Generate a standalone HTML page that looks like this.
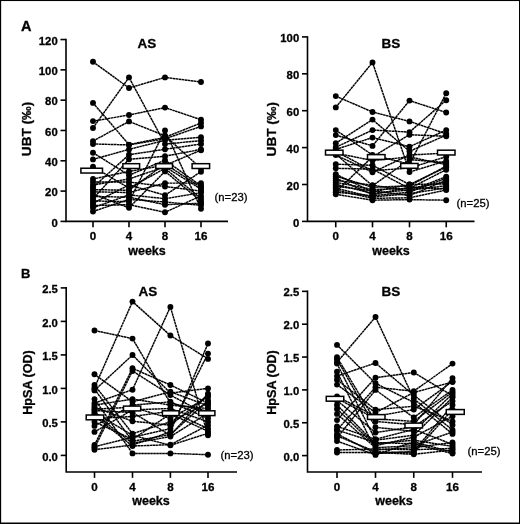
<!DOCTYPE html>
<html><head><meta charset="utf-8"><title>Figure</title>
<style>
html,body{margin:0;padding:0;background:#fff;}
body{width:520px;height:524px;overflow:hidden;}
svg{display:block;font-family:"Liberation Sans", Arial, sans-serif;}
svg text{fill:#000;stroke:#000;stroke-width:0.3px;}
</style></head><body>
<svg width="520" height="524" viewBox="0 0 520 524">
<rect width="520" height="524" fill="#fff"/>
<path d="M66 38.7 V221.4 H228" fill="none" stroke="#000" stroke-width="1.6" stroke-linejoin="miter"/>
<line x1="60.5" x2="66" y1="221.40" y2="221.40" stroke="#000" stroke-width="1.6"/>
<text x="57.7" y="226.50" text-anchor="end" font-size="11.3" font-weight="bold">0</text>
<line x1="60.5" x2="66" y1="191.09" y2="191.09" stroke="#000" stroke-width="1.6"/>
<text x="57.7" y="196.19" text-anchor="end" font-size="11.3" font-weight="bold">20</text>
<line x1="60.5" x2="66" y1="160.78" y2="160.78" stroke="#000" stroke-width="1.6"/>
<text x="57.7" y="165.88" text-anchor="end" font-size="11.3" font-weight="bold">40</text>
<line x1="60.5" x2="66" y1="130.47" y2="130.47" stroke="#000" stroke-width="1.6"/>
<text x="57.7" y="135.57" text-anchor="end" font-size="11.3" font-weight="bold">60</text>
<line x1="60.5" x2="66" y1="100.16" y2="100.16" stroke="#000" stroke-width="1.6"/>
<text x="57.7" y="105.26" text-anchor="end" font-size="11.3" font-weight="bold">80</text>
<line x1="60.5" x2="66" y1="69.85" y2="69.85" stroke="#000" stroke-width="1.6"/>
<text x="57.7" y="74.95" text-anchor="end" font-size="11.3" font-weight="bold">100</text>
<line x1="60.5" x2="66" y1="39.54" y2="39.54" stroke="#000" stroke-width="1.6"/>
<text x="57.7" y="44.64" text-anchor="end" font-size="11.3" font-weight="bold">120</text>
<line x1="93" x2="93" y1="221.4" y2="227.3" stroke="#000" stroke-width="1.6"/>
<text x="93" y="239.7" text-anchor="middle" font-size="11.6" font-weight="bold" stroke-width="0.4">0</text>
<line x1="129" x2="129" y1="221.4" y2="227.3" stroke="#000" stroke-width="1.6"/>
<text x="129" y="239.7" text-anchor="middle" font-size="11.6" font-weight="bold" stroke-width="0.4">4</text>
<line x1="165" x2="165" y1="221.4" y2="227.3" stroke="#000" stroke-width="1.6"/>
<text x="165" y="239.7" text-anchor="middle" font-size="11.6" font-weight="bold" stroke-width="0.4">8</text>
<line x1="201" x2="201" y1="221.4" y2="227.3" stroke="#000" stroke-width="1.6"/>
<text x="201" y="239.7" text-anchor="middle" font-size="11.6" font-weight="bold" stroke-width="0.4">16</text>
<text x="147" y="254.5" text-anchor="middle" font-size="12.5" font-weight="bold">weeks</text>
<text x="147" y="48" text-anchor="middle" font-size="13.5" font-weight="bold">AS</text>
<text x="231" y="201" text-anchor="middle" font-size="11.3">(n=23)</text>
<text transform="translate(30.8 129) rotate(-90)" text-anchor="middle" font-size="13.6" font-weight="bold">UBT (‰)</text>
<polyline points="93.0,61.8 129.0,88.0 165.0,77.4 201.0,82.0" fill="none" stroke="#000" stroke-width="1.45" stroke-dasharray="2.6 0.4"/>
<polyline points="93.0,128.0 129.0,77.4 165.0,144.1 201.0,140.6" fill="none" stroke="#000" stroke-width="1.45" stroke-dasharray="2.6 0.4"/>
<polyline points="93.0,141.1 129.0,121.4 165.0,135.8 201.0,168.4" fill="none" stroke="#000" stroke-width="1.45" stroke-dasharray="2.6 0.4"/>
<polyline points="93.0,200.9 129.0,201.7 165.0,130.5 201.0,208.7" fill="none" stroke="#000" stroke-width="1.45" stroke-dasharray="2.6 0.4"/>
<polyline points="93.0,121.1 129.0,115.0 165.0,107.6 201.0,119.7" fill="none" stroke="#000" stroke-width="1.45" stroke-dasharray="2.6 0.4"/>
<polyline points="93.0,102.9 129.0,144.6 165.0,137.3 201.0,123.0" fill="none" stroke="#000" stroke-width="1.45" stroke-dasharray="2.6 0.4"/>
<polyline points="93.0,144.0 129.0,144.9 165.0,138.8 201.0,126.4" fill="none" stroke="#000" stroke-width="1.45" stroke-dasharray="2.6 0.4"/>
<polyline points="93.0,159.4 129.0,149.4 165.0,140.3 201.0,137.3" fill="none" stroke="#000" stroke-width="1.45" stroke-dasharray="2.6 0.4"/>
<polyline points="93.0,187.3 129.0,154.7 165.0,149.3 201.0,144.0" fill="none" stroke="#000" stroke-width="1.45" stroke-dasharray="2.6 0.4"/>
<polyline points="93.0,198.7 129.0,159.3 165.0,156.2 201.0,149.4" fill="none" stroke="#000" stroke-width="1.45" stroke-dasharray="2.6 0.4"/>
<polyline points="93.0,152.7 129.0,175.2 165.0,160.2 201.0,185.8" fill="none" stroke="#000" stroke-width="1.45" stroke-dasharray="2.6 0.4"/>
<polyline points="93.0,166.8 129.0,188.1 165.0,168.4 201.0,198.7" fill="none" stroke="#000" stroke-width="1.45" stroke-dasharray="2.6 0.4"/>
<polyline points="93.0,179.0 129.0,171.4 165.0,165.3 201.0,150.2" fill="none" stroke="#000" stroke-width="1.45" stroke-dasharray="2.6 0.4"/>
<polyline points="93.0,185.0 129.0,179.0 165.0,166.8 201.0,189.1" fill="none" stroke="#000" stroke-width="1.45" stroke-dasharray="2.6 0.4"/>
<polyline points="93.0,182.0 129.0,182.0 165.0,186.5 201.0,191.1" fill="none" stroke="#000" stroke-width="1.45" stroke-dasharray="2.6 0.4"/>
<polyline points="93.0,191.8 129.0,192.6 165.0,183.1 201.0,183.1" fill="none" stroke="#000" stroke-width="1.45" stroke-dasharray="2.6 0.4"/>
<polyline points="93.0,203.2 129.0,185.0 165.0,195.2 201.0,171.7" fill="none" stroke="#000" stroke-width="1.45" stroke-dasharray="2.6 0.4"/>
<polyline points="93.0,207.8 129.0,194.9 165.0,198.7 201.0,192.6" fill="none" stroke="#000" stroke-width="1.45" stroke-dasharray="2.6 0.4"/>
<polyline points="93.0,189.6 129.0,190.3 165.0,163.8 201.0,187.5" fill="none" stroke="#000" stroke-width="1.45" stroke-dasharray="2.6 0.4"/>
<polyline points="93.0,196.4 129.0,197.2 165.0,204.7 201.0,203.2" fill="none" stroke="#000" stroke-width="1.45" stroke-dasharray="2.6 0.4"/>
<polyline points="93.0,194.1 129.0,207.8 165.0,171.4 201.0,201.2" fill="none" stroke="#000" stroke-width="1.45" stroke-dasharray="2.6 0.4"/>
<polyline points="93.0,205.5 129.0,204.7 165.0,212.3 201.0,195.9" fill="none" stroke="#000" stroke-width="1.45" stroke-dasharray="2.6 0.4"/>
<polyline points="93.0,211.5 129.0,199.4 165.0,202.0 201.0,205.3" fill="none" stroke="#000" stroke-width="1.45" stroke-dasharray="2.6 0.4"/>
<circle cx="93.0" cy="61.8" r="2.95"/>
<circle cx="129.0" cy="88.0" r="2.95"/>
<circle cx="165.0" cy="77.4" r="2.95"/>
<circle cx="201.0" cy="82.0" r="2.95"/>
<circle cx="93.0" cy="128.0" r="2.95"/>
<circle cx="129.0" cy="77.4" r="2.95"/>
<circle cx="165.0" cy="144.1" r="2.95"/>
<circle cx="201.0" cy="140.6" r="2.95"/>
<circle cx="93.0" cy="141.1" r="2.95"/>
<circle cx="129.0" cy="121.4" r="2.95"/>
<circle cx="165.0" cy="135.8" r="2.95"/>
<circle cx="201.0" cy="168.4" r="2.95"/>
<circle cx="93.0" cy="200.9" r="2.95"/>
<circle cx="129.0" cy="201.7" r="2.95"/>
<circle cx="165.0" cy="130.5" r="2.95"/>
<circle cx="201.0" cy="208.7" r="2.95"/>
<circle cx="93.0" cy="121.1" r="2.95"/>
<circle cx="129.0" cy="115.0" r="2.95"/>
<circle cx="165.0" cy="107.6" r="2.95"/>
<circle cx="201.0" cy="119.7" r="2.95"/>
<circle cx="93.0" cy="102.9" r="2.95"/>
<circle cx="129.0" cy="144.6" r="2.95"/>
<circle cx="165.0" cy="137.3" r="2.95"/>
<circle cx="201.0" cy="123.0" r="2.95"/>
<circle cx="93.0" cy="144.0" r="2.95"/>
<circle cx="129.0" cy="144.9" r="2.95"/>
<circle cx="165.0" cy="138.8" r="2.95"/>
<circle cx="201.0" cy="126.4" r="2.95"/>
<circle cx="93.0" cy="159.4" r="2.95"/>
<circle cx="129.0" cy="149.4" r="2.95"/>
<circle cx="165.0" cy="140.3" r="2.95"/>
<circle cx="201.0" cy="137.3" r="2.95"/>
<circle cx="93.0" cy="187.3" r="2.95"/>
<circle cx="129.0" cy="154.7" r="2.95"/>
<circle cx="165.0" cy="149.3" r="2.95"/>
<circle cx="201.0" cy="144.0" r="2.95"/>
<circle cx="93.0" cy="198.7" r="2.95"/>
<circle cx="129.0" cy="159.3" r="2.95"/>
<circle cx="165.0" cy="156.2" r="2.95"/>
<circle cx="201.0" cy="149.4" r="2.95"/>
<circle cx="93.0" cy="152.7" r="2.95"/>
<circle cx="129.0" cy="175.2" r="2.95"/>
<circle cx="165.0" cy="160.2" r="2.95"/>
<circle cx="201.0" cy="185.8" r="2.95"/>
<circle cx="93.0" cy="166.8" r="2.95"/>
<circle cx="129.0" cy="188.1" r="2.95"/>
<circle cx="165.0" cy="168.4" r="2.95"/>
<circle cx="201.0" cy="198.7" r="2.95"/>
<circle cx="93.0" cy="179.0" r="2.95"/>
<circle cx="129.0" cy="171.4" r="2.95"/>
<circle cx="165.0" cy="165.3" r="2.95"/>
<circle cx="201.0" cy="150.2" r="2.95"/>
<circle cx="93.0" cy="185.0" r="2.95"/>
<circle cx="129.0" cy="179.0" r="2.95"/>
<circle cx="165.0" cy="166.8" r="2.95"/>
<circle cx="201.0" cy="189.1" r="2.95"/>
<circle cx="93.0" cy="182.0" r="2.95"/>
<circle cx="129.0" cy="182.0" r="2.95"/>
<circle cx="165.0" cy="186.5" r="2.95"/>
<circle cx="201.0" cy="191.1" r="2.95"/>
<circle cx="93.0" cy="191.8" r="2.95"/>
<circle cx="129.0" cy="192.6" r="2.95"/>
<circle cx="165.0" cy="183.1" r="2.95"/>
<circle cx="201.0" cy="183.1" r="2.95"/>
<circle cx="93.0" cy="203.2" r="2.95"/>
<circle cx="129.0" cy="185.0" r="2.95"/>
<circle cx="165.0" cy="195.2" r="2.95"/>
<circle cx="201.0" cy="171.7" r="2.95"/>
<circle cx="93.0" cy="207.8" r="2.95"/>
<circle cx="129.0" cy="194.9" r="2.95"/>
<circle cx="165.0" cy="198.7" r="2.95"/>
<circle cx="201.0" cy="192.6" r="2.95"/>
<circle cx="93.0" cy="189.6" r="2.95"/>
<circle cx="129.0" cy="190.3" r="2.95"/>
<circle cx="165.0" cy="163.8" r="2.95"/>
<circle cx="201.0" cy="187.5" r="2.95"/>
<circle cx="93.0" cy="196.4" r="2.95"/>
<circle cx="129.0" cy="197.2" r="2.95"/>
<circle cx="165.0" cy="204.7" r="2.95"/>
<circle cx="201.0" cy="203.2" r="2.95"/>
<circle cx="93.0" cy="194.1" r="2.95"/>
<circle cx="129.0" cy="207.8" r="2.95"/>
<circle cx="165.0" cy="171.4" r="2.95"/>
<circle cx="201.0" cy="201.2" r="2.95"/>
<circle cx="93.0" cy="205.5" r="2.95"/>
<circle cx="129.0" cy="204.7" r="2.95"/>
<circle cx="165.0" cy="212.3" r="2.95"/>
<circle cx="201.0" cy="195.9" r="2.95"/>
<circle cx="93.0" cy="211.5" r="2.95"/>
<circle cx="129.0" cy="199.4" r="2.95"/>
<circle cx="165.0" cy="202.0" r="2.95"/>
<circle cx="201.0" cy="205.3" r="2.95"/>
<rect x="80.9" y="168.23" width="21.599999999999994" height="4.8" fill="#fff" stroke="#000" stroke-width="1.5"/>
<rect x="122.9" y="163.68" width="16.69999999999999" height="4.8" fill="#fff" stroke="#000" stroke-width="1.5"/>
<rect x="155.8" y="163.68" width="16.69999999999999" height="4.8" fill="#fff" stroke="#000" stroke-width="1.5"/>
<rect x="192.1" y="163.68" width="17.5" height="4.8" fill="#fff" stroke="#000" stroke-width="1.5"/>
<path d="M307.5 36.2 V221.4 H474.5" fill="none" stroke="#000" stroke-width="1.6" stroke-linejoin="miter"/>
<line x1="302.0" x2="307.5" y1="221.40" y2="221.40" stroke="#000" stroke-width="1.6"/>
<text x="299.2" y="226.50" text-anchor="end" font-size="11.3" font-weight="bold">0</text>
<line x1="302.0" x2="307.5" y1="184.50" y2="184.50" stroke="#000" stroke-width="1.6"/>
<text x="299.2" y="189.60" text-anchor="end" font-size="11.3" font-weight="bold">20</text>
<line x1="302.0" x2="307.5" y1="147.60" y2="147.60" stroke="#000" stroke-width="1.6"/>
<text x="299.2" y="152.70" text-anchor="end" font-size="11.3" font-weight="bold">40</text>
<line x1="302.0" x2="307.5" y1="110.70" y2="110.70" stroke="#000" stroke-width="1.6"/>
<text x="299.2" y="115.80" text-anchor="end" font-size="11.3" font-weight="bold">60</text>
<line x1="302.0" x2="307.5" y1="73.80" y2="73.80" stroke="#000" stroke-width="1.6"/>
<text x="299.2" y="78.90" text-anchor="end" font-size="11.3" font-weight="bold">80</text>
<line x1="302.0" x2="307.5" y1="36.90" y2="36.90" stroke="#000" stroke-width="1.6"/>
<text x="299.2" y="42.00" text-anchor="end" font-size="11.3" font-weight="bold">100</text>
<line x1="335.75" x2="335.75" y1="221.4" y2="227.3" stroke="#000" stroke-width="1.6"/>
<text x="335.75" y="239.7" text-anchor="middle" font-size="11.6" font-weight="bold" stroke-width="0.4">0</text>
<line x1="372.5" x2="372.5" y1="221.4" y2="227.3" stroke="#000" stroke-width="1.6"/>
<text x="372.5" y="239.7" text-anchor="middle" font-size="11.6" font-weight="bold" stroke-width="0.4">4</text>
<line x1="409.5" x2="409.5" y1="221.4" y2="227.3" stroke="#000" stroke-width="1.6"/>
<text x="409.5" y="239.7" text-anchor="middle" font-size="11.6" font-weight="bold" stroke-width="0.4">8</text>
<line x1="446.25" x2="446.25" y1="221.4" y2="227.3" stroke="#000" stroke-width="1.6"/>
<text x="446.25" y="239.7" text-anchor="middle" font-size="11.6" font-weight="bold" stroke-width="0.4">16</text>
<text x="391" y="254.5" text-anchor="middle" font-size="12.5" font-weight="bold">weeks</text>
<text x="391" y="48" text-anchor="middle" font-size="13.5" font-weight="bold">BS</text>
<text x="473" y="206.5" text-anchor="middle" font-size="11.3">(n=25)</text>
<text transform="translate(275.8 129.2) rotate(-90)" text-anchor="middle" font-size="13.6" font-weight="bold">UBT (‰)</text>
<polyline points="335.8,107.4 372.5,62.4 409.5,172.1 446.2,160.9" fill="none" stroke="#000" stroke-width="1.45" stroke-dasharray="2.6 0.4"/>
<polyline points="335.8,96.1 372.5,112.0 409.5,121.4 446.2,133.8" fill="none" stroke="#000" stroke-width="1.45" stroke-dasharray="2.6 0.4"/>
<polyline points="335.8,135.1 372.5,145.9 409.5,100.6 446.2,112.5" fill="none" stroke="#000" stroke-width="1.45" stroke-dasharray="2.6 0.4"/>
<polyline points="335.8,143.2 372.5,119.6 409.5,151.3 446.2,135.1" fill="none" stroke="#000" stroke-width="1.45" stroke-dasharray="2.6 0.4"/>
<polyline points="335.8,147.2 372.5,130.1 409.5,132.1 446.2,100.2" fill="none" stroke="#000" stroke-width="1.45" stroke-dasharray="2.6 0.4"/>
<polyline points="335.8,149.4 372.5,137.6 409.5,146.7 446.2,130.1" fill="none" stroke="#000" stroke-width="1.45" stroke-dasharray="2.6 0.4"/>
<polyline points="335.8,130.1 372.5,155.0 409.5,164.2 446.2,93.2" fill="none" stroke="#000" stroke-width="1.45" stroke-dasharray="2.6 0.4"/>
<polyline points="335.8,191.9 372.5,156.8 409.5,134.7 446.2,136.3" fill="none" stroke="#000" stroke-width="1.45" stroke-dasharray="2.6 0.4"/>
<polyline points="335.8,153.1 372.5,160.5 409.5,157.0 446.2,164.6" fill="none" stroke="#000" stroke-width="1.45" stroke-dasharray="2.6 0.4"/>
<polyline points="335.8,164.2 372.5,165.3 409.5,184.5 446.2,167.2" fill="none" stroke="#000" stroke-width="1.45" stroke-dasharray="2.6 0.4"/>
<polyline points="335.8,168.3 372.5,169.2 409.5,188.4 446.2,182.1" fill="none" stroke="#000" stroke-width="1.45" stroke-dasharray="2.6 0.4"/>
<polyline points="335.8,155.0 372.5,172.3 409.5,155.0 446.2,153.1" fill="none" stroke="#000" stroke-width="1.45" stroke-dasharray="2.6 0.4"/>
<polyline points="335.8,154.1 372.5,185.8 409.5,159.6 446.2,162.7" fill="none" stroke="#000" stroke-width="1.45" stroke-dasharray="2.6 0.4"/>
<polyline points="335.8,151.3 372.5,170.8 409.5,167.9 446.2,156.8" fill="none" stroke="#000" stroke-width="1.45" stroke-dasharray="2.6 0.4"/>
<polyline points="335.8,194.3 372.5,200.2 409.5,199.6 446.2,200.2" fill="none" stroke="#000" stroke-width="1.45" stroke-dasharray="2.6 0.4"/>
<polyline points="335.8,176.2 372.5,187.3 409.5,185.8 446.2,166.1" fill="none" stroke="#000" stroke-width="1.45" stroke-dasharray="2.6 0.4"/>
<polyline points="335.8,174.2 372.5,191.9 409.5,184.5 446.2,183.9" fill="none" stroke="#000" stroke-width="1.45" stroke-dasharray="2.6 0.4"/>
<polyline points="335.8,182.3 372.5,189.5 409.5,188.4 446.2,169.7" fill="none" stroke="#000" stroke-width="1.45" stroke-dasharray="2.6 0.4"/>
<polyline points="335.8,178.2 372.5,194.6 409.5,187.3 446.2,188.9" fill="none" stroke="#000" stroke-width="1.45" stroke-dasharray="2.6 0.4"/>
<polyline points="335.8,180.3 372.5,185.2 409.5,191.0 446.2,176.6" fill="none" stroke="#000" stroke-width="1.45" stroke-dasharray="2.6 0.4"/>
<polyline points="335.8,184.3 372.5,193.4 409.5,190.0 446.2,185.8" fill="none" stroke="#000" stroke-width="1.45" stroke-dasharray="2.6 0.4"/>
<polyline points="335.8,186.3 372.5,190.8 409.5,195.6 446.2,180.3" fill="none" stroke="#000" stroke-width="1.45" stroke-dasharray="2.6 0.4"/>
<polyline points="335.8,192.2 372.5,195.8 409.5,192.1 446.2,178.4" fill="none" stroke="#000" stroke-width="1.45" stroke-dasharray="2.6 0.4"/>
<polyline points="335.8,190.0 372.5,198.3 409.5,197.8 446.2,190.0" fill="none" stroke="#000" stroke-width="1.45" stroke-dasharray="2.6 0.4"/>
<polyline points="335.8,188.2 372.5,197.0 409.5,193.7 446.2,187.8" fill="none" stroke="#000" stroke-width="1.45" stroke-dasharray="2.6 0.4"/>
<circle cx="335.8" cy="107.4" r="2.95"/>
<circle cx="372.5" cy="62.4" r="2.95"/>
<circle cx="409.5" cy="172.1" r="2.95"/>
<circle cx="446.2" cy="160.9" r="2.95"/>
<circle cx="335.8" cy="96.1" r="2.95"/>
<circle cx="372.5" cy="112.0" r="2.95"/>
<circle cx="409.5" cy="121.4" r="2.95"/>
<circle cx="446.2" cy="133.8" r="2.95"/>
<circle cx="335.8" cy="135.1" r="2.95"/>
<circle cx="372.5" cy="145.9" r="2.95"/>
<circle cx="409.5" cy="100.6" r="2.95"/>
<circle cx="446.2" cy="112.5" r="2.95"/>
<circle cx="335.8" cy="143.2" r="2.95"/>
<circle cx="372.5" cy="119.6" r="2.95"/>
<circle cx="409.5" cy="151.3" r="2.95"/>
<circle cx="446.2" cy="135.1" r="2.95"/>
<circle cx="335.8" cy="147.2" r="2.95"/>
<circle cx="372.5" cy="130.1" r="2.95"/>
<circle cx="409.5" cy="132.1" r="2.95"/>
<circle cx="446.2" cy="100.2" r="2.95"/>
<circle cx="335.8" cy="149.4" r="2.95"/>
<circle cx="372.5" cy="137.6" r="2.95"/>
<circle cx="409.5" cy="146.7" r="2.95"/>
<circle cx="446.2" cy="130.1" r="2.95"/>
<circle cx="335.8" cy="130.1" r="2.95"/>
<circle cx="372.5" cy="155.0" r="2.95"/>
<circle cx="409.5" cy="164.2" r="2.95"/>
<circle cx="446.2" cy="93.2" r="2.95"/>
<circle cx="335.8" cy="191.9" r="2.95"/>
<circle cx="372.5" cy="156.8" r="2.95"/>
<circle cx="409.5" cy="134.7" r="2.95"/>
<circle cx="446.2" cy="136.3" r="2.95"/>
<circle cx="335.8" cy="153.1" r="2.95"/>
<circle cx="372.5" cy="160.5" r="2.95"/>
<circle cx="409.5" cy="157.0" r="2.95"/>
<circle cx="446.2" cy="164.6" r="2.95"/>
<circle cx="335.8" cy="164.2" r="2.95"/>
<circle cx="372.5" cy="165.3" r="2.95"/>
<circle cx="409.5" cy="184.5" r="2.95"/>
<circle cx="446.2" cy="167.2" r="2.95"/>
<circle cx="335.8" cy="168.3" r="2.95"/>
<circle cx="372.5" cy="169.2" r="2.95"/>
<circle cx="409.5" cy="188.4" r="2.95"/>
<circle cx="446.2" cy="182.1" r="2.95"/>
<circle cx="335.8" cy="155.0" r="2.95"/>
<circle cx="372.5" cy="172.3" r="2.95"/>
<circle cx="409.5" cy="155.0" r="2.95"/>
<circle cx="446.2" cy="153.1" r="2.95"/>
<circle cx="335.8" cy="154.1" r="2.95"/>
<circle cx="372.5" cy="185.8" r="2.95"/>
<circle cx="409.5" cy="159.6" r="2.95"/>
<circle cx="446.2" cy="162.7" r="2.95"/>
<circle cx="335.8" cy="151.3" r="2.95"/>
<circle cx="372.5" cy="170.8" r="2.95"/>
<circle cx="409.5" cy="167.9" r="2.95"/>
<circle cx="446.2" cy="156.8" r="2.95"/>
<circle cx="335.8" cy="194.3" r="2.95"/>
<circle cx="372.5" cy="200.2" r="2.95"/>
<circle cx="409.5" cy="199.6" r="2.95"/>
<circle cx="446.2" cy="200.2" r="2.95"/>
<circle cx="335.8" cy="176.2" r="2.95"/>
<circle cx="372.5" cy="187.3" r="2.95"/>
<circle cx="409.5" cy="185.8" r="2.95"/>
<circle cx="446.2" cy="166.1" r="2.95"/>
<circle cx="335.8" cy="174.2" r="2.95"/>
<circle cx="372.5" cy="191.9" r="2.95"/>
<circle cx="409.5" cy="184.5" r="2.95"/>
<circle cx="446.2" cy="183.9" r="2.95"/>
<circle cx="335.8" cy="182.3" r="2.95"/>
<circle cx="372.5" cy="189.5" r="2.95"/>
<circle cx="409.5" cy="188.4" r="2.95"/>
<circle cx="446.2" cy="169.7" r="2.95"/>
<circle cx="335.8" cy="178.2" r="2.95"/>
<circle cx="372.5" cy="194.6" r="2.95"/>
<circle cx="409.5" cy="187.3" r="2.95"/>
<circle cx="446.2" cy="188.9" r="2.95"/>
<circle cx="335.8" cy="180.3" r="2.95"/>
<circle cx="372.5" cy="185.2" r="2.95"/>
<circle cx="409.5" cy="191.0" r="2.95"/>
<circle cx="446.2" cy="176.6" r="2.95"/>
<circle cx="335.8" cy="184.3" r="2.95"/>
<circle cx="372.5" cy="193.4" r="2.95"/>
<circle cx="409.5" cy="190.0" r="2.95"/>
<circle cx="446.2" cy="185.8" r="2.95"/>
<circle cx="335.8" cy="186.3" r="2.95"/>
<circle cx="372.5" cy="190.8" r="2.95"/>
<circle cx="409.5" cy="195.6" r="2.95"/>
<circle cx="446.2" cy="180.3" r="2.95"/>
<circle cx="335.8" cy="192.2" r="2.95"/>
<circle cx="372.5" cy="195.8" r="2.95"/>
<circle cx="409.5" cy="192.1" r="2.95"/>
<circle cx="446.2" cy="178.4" r="2.95"/>
<circle cx="335.8" cy="190.0" r="2.95"/>
<circle cx="372.5" cy="198.3" r="2.95"/>
<circle cx="409.5" cy="197.8" r="2.95"/>
<circle cx="446.2" cy="190.0" r="2.95"/>
<circle cx="335.8" cy="188.2" r="2.95"/>
<circle cx="372.5" cy="197.0" r="2.95"/>
<circle cx="409.5" cy="193.7" r="2.95"/>
<circle cx="446.2" cy="187.8" r="2.95"/>
<rect x="325.5" y="150.18" width="17.5" height="4.8" fill="#fff" stroke="#000" stroke-width="1.5"/>
<rect x="367.5" y="154.61" width="17.5" height="4.8" fill="#fff" stroke="#000" stroke-width="1.5"/>
<rect x="400.75" y="163.47" width="17.25" height="4.8" fill="#fff" stroke="#000" stroke-width="1.5"/>
<rect x="437.5" y="150.18" width="17.5" height="4.8" fill="#fff" stroke="#000" stroke-width="1.5"/>
<path d="M66.2 287.0 V472 H237" fill="none" stroke="#000" stroke-width="1.6" stroke-linejoin="miter"/>
<line x1="60.7" x2="66.2" y1="455.40" y2="455.40" stroke="#000" stroke-width="1.6"/>
<text x="57.900000000000006" y="460.50" text-anchor="end" font-size="11.3" font-weight="bold">0.0</text>
<line x1="60.7" x2="66.2" y1="421.90" y2="421.90" stroke="#000" stroke-width="1.6"/>
<text x="57.900000000000006" y="427.00" text-anchor="end" font-size="11.3" font-weight="bold">0.5</text>
<line x1="60.7" x2="66.2" y1="388.40" y2="388.40" stroke="#000" stroke-width="1.6"/>
<text x="57.900000000000006" y="393.50" text-anchor="end" font-size="11.3" font-weight="bold">1.0</text>
<line x1="60.7" x2="66.2" y1="354.90" y2="354.90" stroke="#000" stroke-width="1.6"/>
<text x="57.900000000000006" y="360.00" text-anchor="end" font-size="11.3" font-weight="bold">1.5</text>
<line x1="60.7" x2="66.2" y1="321.40" y2="321.40" stroke="#000" stroke-width="1.6"/>
<text x="57.900000000000006" y="326.50" text-anchor="end" font-size="11.3" font-weight="bold">2.0</text>
<line x1="60.7" x2="66.2" y1="287.90" y2="287.90" stroke="#000" stroke-width="1.6"/>
<text x="57.900000000000006" y="293.00" text-anchor="end" font-size="11.3" font-weight="bold">2.5</text>
<line x1="94.5" x2="94.5" y1="472" y2="477.9" stroke="#000" stroke-width="1.6"/>
<text x="94.5" y="491" text-anchor="middle" font-size="11.6" font-weight="bold" stroke-width="0.4">0</text>
<line x1="132.5" x2="132.5" y1="472" y2="477.9" stroke="#000" stroke-width="1.6"/>
<text x="132.5" y="491" text-anchor="middle" font-size="11.6" font-weight="bold" stroke-width="0.4">4</text>
<line x1="170.4" x2="170.4" y1="472" y2="477.9" stroke="#000" stroke-width="1.6"/>
<text x="170.4" y="491" text-anchor="middle" font-size="11.6" font-weight="bold" stroke-width="0.4">8</text>
<line x1="208" x2="208" y1="472" y2="477.9" stroke="#000" stroke-width="1.6"/>
<text x="208" y="491" text-anchor="middle" font-size="11.6" font-weight="bold" stroke-width="0.4">16</text>
<text x="151" y="505" text-anchor="middle" font-size="12.5" font-weight="bold">weeks</text>
<text x="148" y="296" text-anchor="middle" font-size="13.5" font-weight="bold">AS</text>
<text x="237" y="459" text-anchor="middle" font-size="11.3">(n=23)</text>
<text transform="translate(31.5 382.5) rotate(-90)" text-anchor="middle" font-size="12.6" font-weight="bold">HpSA (OD)</text>
<polyline points="94.5,330.5 132.5,338.6 170.4,403.1 208.0,411.2" fill="none" stroke="#000" stroke-width="1.45" stroke-dasharray="2.6 0.4"/>
<polyline points="94.5,387.7 132.5,301.6 170.4,335.5 208.0,358.9" fill="none" stroke="#000" stroke-width="1.45" stroke-dasharray="2.6 0.4"/>
<polyline points="94.5,403.1 132.5,389.7 170.4,306.9 208.0,435.3" fill="none" stroke="#000" stroke-width="1.45" stroke-dasharray="2.6 0.4"/>
<polyline points="94.5,390.4 132.5,355.0 170.4,393.1 208.0,388.4" fill="none" stroke="#000" stroke-width="1.45" stroke-dasharray="2.6 0.4"/>
<polyline points="94.5,374.3 132.5,401.8 170.4,391.8 208.0,405.8" fill="none" stroke="#000" stroke-width="1.45" stroke-dasharray="2.6 0.4"/>
<polyline points="94.5,385.0 132.5,433.6 170.4,421.9 208.0,403.1" fill="none" stroke="#000" stroke-width="1.45" stroke-dasharray="2.6 0.4"/>
<polyline points="94.5,389.1 132.5,441.3 170.4,434.6 208.0,400.5" fill="none" stroke="#000" stroke-width="1.45" stroke-dasharray="2.6 0.4"/>
<polyline points="94.5,399.1 132.5,453.4 170.4,453.4 208.0,454.7" fill="none" stroke="#000" stroke-width="1.45" stroke-dasharray="2.6 0.4"/>
<polyline points="94.5,445.0 132.5,368.3 170.4,385.0 208.0,403.1" fill="none" stroke="#000" stroke-width="1.45" stroke-dasharray="2.6 0.4"/>
<polyline points="94.5,448.0 132.5,371.0 170.4,395.1 208.0,415.2" fill="none" stroke="#000" stroke-width="1.45" stroke-dasharray="2.6 0.4"/>
<polyline points="94.5,449.7 132.5,445.0 170.4,431.9 208.0,343.5" fill="none" stroke="#000" stroke-width="1.45" stroke-dasharray="2.6 0.4"/>
<polyline points="94.5,446.7 132.5,437.3 170.4,428.6 208.0,353.6" fill="none" stroke="#000" stroke-width="1.45" stroke-dasharray="2.6 0.4"/>
<polyline points="94.5,407.2 132.5,421.2 170.4,425.2 208.0,395.1" fill="none" stroke="#000" stroke-width="1.45" stroke-dasharray="2.6 0.4"/>
<polyline points="94.5,425.9 132.5,405.1 170.4,401.8 208.0,418.5" fill="none" stroke="#000" stroke-width="1.45" stroke-dasharray="2.6 0.4"/>
<polyline points="94.5,431.9 132.5,409.8 170.4,408.5 208.0,421.9" fill="none" stroke="#000" stroke-width="1.45" stroke-dasharray="2.6 0.4"/>
<polyline points="94.5,405.1 132.5,399.1 170.4,405.1 208.0,408.5" fill="none" stroke="#000" stroke-width="1.45" stroke-dasharray="2.6 0.4"/>
<polyline points="94.5,409.2 132.5,407.2 170.4,418.5 208.0,397.1" fill="none" stroke="#000" stroke-width="1.45" stroke-dasharray="2.6 0.4"/>
<polyline points="94.5,410.5 132.5,412.5 170.4,435.3 208.0,393.8" fill="none" stroke="#000" stroke-width="1.45" stroke-dasharray="2.6 0.4"/>
<polyline points="94.5,413.9 132.5,443.3 170.4,436.6 208.0,413.2" fill="none" stroke="#000" stroke-width="1.45" stroke-dasharray="2.6 0.4"/>
<polyline points="94.5,415.9 132.5,446.0 170.4,444.7 208.0,425.2" fill="none" stroke="#000" stroke-width="1.45" stroke-dasharray="2.6 0.4"/>
<polyline points="94.5,418.5 132.5,416.5 170.4,411.2 208.0,428.6" fill="none" stroke="#000" stroke-width="1.45" stroke-dasharray="2.6 0.4"/>
<polyline points="94.5,412.5 132.5,435.3 170.4,445.3 208.0,433.3" fill="none" stroke="#000" stroke-width="1.45" stroke-dasharray="2.6 0.4"/>
<polyline points="94.5,421.9 132.5,439.3 170.4,413.9 208.0,431.3" fill="none" stroke="#000" stroke-width="1.45" stroke-dasharray="2.6 0.4"/>
<circle cx="94.5" cy="330.5" r="2.95"/>
<circle cx="132.5" cy="338.6" r="2.95"/>
<circle cx="170.4" cy="403.1" r="2.95"/>
<circle cx="208.0" cy="411.2" r="2.95"/>
<circle cx="94.5" cy="387.7" r="2.95"/>
<circle cx="132.5" cy="301.6" r="2.95"/>
<circle cx="170.4" cy="335.5" r="2.95"/>
<circle cx="208.0" cy="358.9" r="2.95"/>
<circle cx="94.5" cy="403.1" r="2.95"/>
<circle cx="132.5" cy="389.7" r="2.95"/>
<circle cx="170.4" cy="306.9" r="2.95"/>
<circle cx="208.0" cy="435.3" r="2.95"/>
<circle cx="94.5" cy="390.4" r="2.95"/>
<circle cx="132.5" cy="355.0" r="2.95"/>
<circle cx="170.4" cy="393.1" r="2.95"/>
<circle cx="208.0" cy="388.4" r="2.95"/>
<circle cx="94.5" cy="374.3" r="2.95"/>
<circle cx="132.5" cy="401.8" r="2.95"/>
<circle cx="170.4" cy="391.8" r="2.95"/>
<circle cx="208.0" cy="405.8" r="2.95"/>
<circle cx="94.5" cy="385.0" r="2.95"/>
<circle cx="132.5" cy="433.6" r="2.95"/>
<circle cx="170.4" cy="421.9" r="2.95"/>
<circle cx="208.0" cy="403.1" r="2.95"/>
<circle cx="94.5" cy="389.1" r="2.95"/>
<circle cx="132.5" cy="441.3" r="2.95"/>
<circle cx="170.4" cy="434.6" r="2.95"/>
<circle cx="208.0" cy="400.5" r="2.95"/>
<circle cx="94.5" cy="399.1" r="2.95"/>
<circle cx="132.5" cy="453.4" r="2.95"/>
<circle cx="170.4" cy="453.4" r="2.95"/>
<circle cx="208.0" cy="454.7" r="2.95"/>
<circle cx="94.5" cy="445.0" r="2.95"/>
<circle cx="132.5" cy="368.3" r="2.95"/>
<circle cx="170.4" cy="385.0" r="2.95"/>
<circle cx="208.0" cy="403.1" r="2.95"/>
<circle cx="94.5" cy="448.0" r="2.95"/>
<circle cx="132.5" cy="371.0" r="2.95"/>
<circle cx="170.4" cy="395.1" r="2.95"/>
<circle cx="208.0" cy="415.2" r="2.95"/>
<circle cx="94.5" cy="449.7" r="2.95"/>
<circle cx="132.5" cy="445.0" r="2.95"/>
<circle cx="170.4" cy="431.9" r="2.95"/>
<circle cx="208.0" cy="343.5" r="2.95"/>
<circle cx="94.5" cy="446.7" r="2.95"/>
<circle cx="132.5" cy="437.3" r="2.95"/>
<circle cx="170.4" cy="428.6" r="2.95"/>
<circle cx="208.0" cy="353.6" r="2.95"/>
<circle cx="94.5" cy="407.2" r="2.95"/>
<circle cx="132.5" cy="421.2" r="2.95"/>
<circle cx="170.4" cy="425.2" r="2.95"/>
<circle cx="208.0" cy="395.1" r="2.95"/>
<circle cx="94.5" cy="425.9" r="2.95"/>
<circle cx="132.5" cy="405.1" r="2.95"/>
<circle cx="170.4" cy="401.8" r="2.95"/>
<circle cx="208.0" cy="418.5" r="2.95"/>
<circle cx="94.5" cy="431.9" r="2.95"/>
<circle cx="132.5" cy="409.8" r="2.95"/>
<circle cx="170.4" cy="408.5" r="2.95"/>
<circle cx="208.0" cy="421.9" r="2.95"/>
<circle cx="94.5" cy="405.1" r="2.95"/>
<circle cx="132.5" cy="399.1" r="2.95"/>
<circle cx="170.4" cy="405.1" r="2.95"/>
<circle cx="208.0" cy="408.5" r="2.95"/>
<circle cx="94.5" cy="409.2" r="2.95"/>
<circle cx="132.5" cy="407.2" r="2.95"/>
<circle cx="170.4" cy="418.5" r="2.95"/>
<circle cx="208.0" cy="397.1" r="2.95"/>
<circle cx="94.5" cy="410.5" r="2.95"/>
<circle cx="132.5" cy="412.5" r="2.95"/>
<circle cx="170.4" cy="435.3" r="2.95"/>
<circle cx="208.0" cy="393.8" r="2.95"/>
<circle cx="94.5" cy="413.9" r="2.95"/>
<circle cx="132.5" cy="443.3" r="2.95"/>
<circle cx="170.4" cy="436.6" r="2.95"/>
<circle cx="208.0" cy="413.2" r="2.95"/>
<circle cx="94.5" cy="415.9" r="2.95"/>
<circle cx="132.5" cy="446.0" r="2.95"/>
<circle cx="170.4" cy="444.7" r="2.95"/>
<circle cx="208.0" cy="425.2" r="2.95"/>
<circle cx="94.5" cy="418.5" r="2.95"/>
<circle cx="132.5" cy="416.5" r="2.95"/>
<circle cx="170.4" cy="411.2" r="2.95"/>
<circle cx="208.0" cy="428.6" r="2.95"/>
<circle cx="94.5" cy="412.5" r="2.95"/>
<circle cx="132.5" cy="435.3" r="2.95"/>
<circle cx="170.4" cy="445.3" r="2.95"/>
<circle cx="208.0" cy="433.3" r="2.95"/>
<circle cx="94.5" cy="421.9" r="2.95"/>
<circle cx="132.5" cy="439.3" r="2.95"/>
<circle cx="170.4" cy="413.9" r="2.95"/>
<circle cx="208.0" cy="431.3" r="2.95"/>
<rect x="86.2" y="415.01" width="17.5" height="4.8" fill="#fff" stroke="#000" stroke-width="1.5"/>
<rect x="123.5" y="406.10" width="17.19999999999999" height="4.8" fill="#fff" stroke="#000" stroke-width="1.5"/>
<rect x="162.4" y="410.79" width="16.599999999999994" height="4.8" fill="#fff" stroke="#000" stroke-width="1.5"/>
<rect x="198.7" y="410.79" width="16.200000000000017" height="4.8" fill="#fff" stroke="#000" stroke-width="1.5"/>
<path d="M307.5 290.5 V472 H482" fill="none" stroke="#000" stroke-width="1.6" stroke-linejoin="miter"/>
<line x1="302.0" x2="307.5" y1="455.60" y2="455.60" stroke="#000" stroke-width="1.6"/>
<text x="299.2" y="460.70" text-anchor="end" font-size="11.3" font-weight="bold">0.0</text>
<line x1="302.0" x2="307.5" y1="422.75" y2="422.75" stroke="#000" stroke-width="1.6"/>
<text x="299.2" y="427.85" text-anchor="end" font-size="11.3" font-weight="bold">0.5</text>
<line x1="302.0" x2="307.5" y1="389.90" y2="389.90" stroke="#000" stroke-width="1.6"/>
<text x="299.2" y="395.00" text-anchor="end" font-size="11.3" font-weight="bold">1.0</text>
<line x1="302.0" x2="307.5" y1="357.05" y2="357.05" stroke="#000" stroke-width="1.6"/>
<text x="299.2" y="362.15" text-anchor="end" font-size="11.3" font-weight="bold">1.5</text>
<line x1="302.0" x2="307.5" y1="324.20" y2="324.20" stroke="#000" stroke-width="1.6"/>
<text x="299.2" y="329.30" text-anchor="end" font-size="11.3" font-weight="bold">2.0</text>
<line x1="302.0" x2="307.5" y1="291.35" y2="291.35" stroke="#000" stroke-width="1.6"/>
<text x="299.2" y="296.45" text-anchor="end" font-size="11.3" font-weight="bold">2.5</text>
<line x1="337" x2="337" y1="472" y2="477.9" stroke="#000" stroke-width="1.6"/>
<text x="337" y="491" text-anchor="middle" font-size="11.6" font-weight="bold" stroke-width="0.4">0</text>
<line x1="375.5" x2="375.5" y1="472" y2="477.9" stroke="#000" stroke-width="1.6"/>
<text x="375.5" y="491" text-anchor="middle" font-size="11.6" font-weight="bold" stroke-width="0.4">4</text>
<line x1="413.75" x2="413.75" y1="472" y2="477.9" stroke="#000" stroke-width="1.6"/>
<text x="413.75" y="491" text-anchor="middle" font-size="11.6" font-weight="bold" stroke-width="0.4">8</text>
<line x1="452.5" x2="452.5" y1="472" y2="477.9" stroke="#000" stroke-width="1.6"/>
<text x="452.5" y="491" text-anchor="middle" font-size="11.6" font-weight="bold" stroke-width="0.4">16</text>
<text x="394" y="505" text-anchor="middle" font-size="12.5" font-weight="bold">weeks</text>
<text x="391" y="295.5" text-anchor="middle" font-size="13.5" font-weight="bold">BS</text>
<text x="484" y="454.5" text-anchor="middle" font-size="11.3">(n=25)</text>
<text transform="translate(275.5 382.5) rotate(-90)" text-anchor="middle" font-size="12.6" font-weight="bold">HpSA (OD)</text>
<polyline points="337.0,362.3 375.5,317.0 413.8,398.8 452.5,430.0" fill="none" stroke="#000" stroke-width="1.45" stroke-dasharray="2.6 0.4"/>
<polyline points="337.0,344.9 375.5,383.3 413.8,402.4 452.5,433.9" fill="none" stroke="#000" stroke-width="1.45" stroke-dasharray="2.6 0.4"/>
<polyline points="337.0,376.1 375.5,363.0 413.8,395.2 452.5,425.0" fill="none" stroke="#000" stroke-width="1.45" stroke-dasharray="2.6 0.4"/>
<polyline points="337.0,359.3 375.5,427.3 413.8,431.3 452.5,393.8" fill="none" stroke="#000" stroke-width="1.45" stroke-dasharray="2.6 0.4"/>
<polyline points="337.0,363.6 375.5,440.2 413.8,435.2 452.5,397.5" fill="none" stroke="#000" stroke-width="1.45" stroke-dasharray="2.6 0.4"/>
<polyline points="337.0,371.8 375.5,450.0 413.8,447.7 452.5,442.5" fill="none" stroke="#000" stroke-width="1.45" stroke-dasharray="2.6 0.4"/>
<polyline points="337.0,357.1 375.5,421.4 413.8,424.7 452.5,378.1" fill="none" stroke="#000" stroke-width="1.45" stroke-dasharray="2.6 0.4"/>
<polyline points="337.0,379.7 375.5,409.6 413.8,406.3 452.5,421.4" fill="none" stroke="#000" stroke-width="1.45" stroke-dasharray="2.6 0.4"/>
<polyline points="337.0,384.6 375.5,412.6 413.8,392.5 452.5,382.0" fill="none" stroke="#000" stroke-width="1.45" stroke-dasharray="2.6 0.4"/>
<polyline points="337.0,420.1 375.5,377.7 413.8,372.5 452.5,395.8" fill="none" stroke="#000" stroke-width="1.45" stroke-dasharray="2.6 0.4"/>
<polyline points="337.0,430.0 375.5,387.3 413.8,391.2 452.5,363.6" fill="none" stroke="#000" stroke-width="1.45" stroke-dasharray="2.6 0.4"/>
<polyline points="337.0,437.9 375.5,389.9 413.8,417.5 452.5,389.9" fill="none" stroke="#000" stroke-width="1.45" stroke-dasharray="2.6 0.4"/>
<polyline points="337.0,396.5 375.5,416.2 413.8,409.6 452.5,381.4" fill="none" stroke="#000" stroke-width="1.45" stroke-dasharray="2.6 0.4"/>
<polyline points="337.0,398.4 375.5,418.8 413.8,421.4 452.5,391.9" fill="none" stroke="#000" stroke-width="1.45" stroke-dasharray="2.6 0.4"/>
<polyline points="337.0,400.4 375.5,432.6 413.8,426.7 452.5,401.1" fill="none" stroke="#000" stroke-width="1.45" stroke-dasharray="2.6 0.4"/>
<polyline points="337.0,426.4 375.5,439.2 413.8,429.3 452.5,444.4" fill="none" stroke="#000" stroke-width="1.45" stroke-dasharray="2.6 0.4"/>
<polyline points="337.0,405.0 375.5,443.8 413.8,440.2 452.5,446.4" fill="none" stroke="#000" stroke-width="1.45" stroke-dasharray="2.6 0.4"/>
<polyline points="337.0,409.0 375.5,445.7 413.8,437.2 452.5,416.2" fill="none" stroke="#000" stroke-width="1.45" stroke-dasharray="2.6 0.4"/>
<polyline points="337.0,413.9 375.5,447.7 413.8,445.7 452.5,431.9" fill="none" stroke="#000" stroke-width="1.45" stroke-dasharray="2.6 0.4"/>
<polyline points="337.0,450.0 375.5,449.0 413.8,449.7 452.5,448.4" fill="none" stroke="#000" stroke-width="1.45" stroke-dasharray="2.6 0.4"/>
<polyline points="337.0,452.5 375.5,452.5 413.8,454.3 452.5,450.0" fill="none" stroke="#000" stroke-width="1.45" stroke-dasharray="2.6 0.4"/>
<polyline points="337.0,433.9 375.5,453.6 413.8,451.3 452.5,405.0" fill="none" stroke="#000" stroke-width="1.45" stroke-dasharray="2.6 0.4"/>
<polyline points="337.0,430.0 375.5,442.5 413.8,443.8 452.5,453.6" fill="none" stroke="#000" stroke-width="1.45" stroke-dasharray="2.6 0.4"/>
<polyline points="337.0,435.9 375.5,451.7 413.8,453.0 452.5,409.6" fill="none" stroke="#000" stroke-width="1.45" stroke-dasharray="2.6 0.4"/>
<polyline points="337.0,441.1 375.5,454.9 413.8,441.8 452.5,452.3" fill="none" stroke="#000" stroke-width="1.45" stroke-dasharray="2.6 0.4"/>
<circle cx="337.0" cy="362.3" r="2.95"/>
<circle cx="375.5" cy="317.0" r="2.95"/>
<circle cx="413.8" cy="398.8" r="2.95"/>
<circle cx="452.5" cy="430.0" r="2.95"/>
<circle cx="337.0" cy="344.9" r="2.95"/>
<circle cx="375.5" cy="383.3" r="2.95"/>
<circle cx="413.8" cy="402.4" r="2.95"/>
<circle cx="452.5" cy="433.9" r="2.95"/>
<circle cx="337.0" cy="376.1" r="2.95"/>
<circle cx="375.5" cy="363.0" r="2.95"/>
<circle cx="413.8" cy="395.2" r="2.95"/>
<circle cx="452.5" cy="425.0" r="2.95"/>
<circle cx="337.0" cy="359.3" r="2.95"/>
<circle cx="375.5" cy="427.3" r="2.95"/>
<circle cx="413.8" cy="431.3" r="2.95"/>
<circle cx="452.5" cy="393.8" r="2.95"/>
<circle cx="337.0" cy="363.6" r="2.95"/>
<circle cx="375.5" cy="440.2" r="2.95"/>
<circle cx="413.8" cy="435.2" r="2.95"/>
<circle cx="452.5" cy="397.5" r="2.95"/>
<circle cx="337.0" cy="371.8" r="2.95"/>
<circle cx="375.5" cy="450.0" r="2.95"/>
<circle cx="413.8" cy="447.7" r="2.95"/>
<circle cx="452.5" cy="442.5" r="2.95"/>
<circle cx="337.0" cy="357.1" r="2.95"/>
<circle cx="375.5" cy="421.4" r="2.95"/>
<circle cx="413.8" cy="424.7" r="2.95"/>
<circle cx="452.5" cy="378.1" r="2.95"/>
<circle cx="337.0" cy="379.7" r="2.95"/>
<circle cx="375.5" cy="409.6" r="2.95"/>
<circle cx="413.8" cy="406.3" r="2.95"/>
<circle cx="452.5" cy="421.4" r="2.95"/>
<circle cx="337.0" cy="384.6" r="2.95"/>
<circle cx="375.5" cy="412.6" r="2.95"/>
<circle cx="413.8" cy="392.5" r="2.95"/>
<circle cx="452.5" cy="382.0" r="2.95"/>
<circle cx="337.0" cy="420.1" r="2.95"/>
<circle cx="375.5" cy="377.7" r="2.95"/>
<circle cx="413.8" cy="372.5" r="2.95"/>
<circle cx="452.5" cy="395.8" r="2.95"/>
<circle cx="337.0" cy="430.0" r="2.95"/>
<circle cx="375.5" cy="387.3" r="2.95"/>
<circle cx="413.8" cy="391.2" r="2.95"/>
<circle cx="452.5" cy="363.6" r="2.95"/>
<circle cx="337.0" cy="437.9" r="2.95"/>
<circle cx="375.5" cy="389.9" r="2.95"/>
<circle cx="413.8" cy="417.5" r="2.95"/>
<circle cx="452.5" cy="389.9" r="2.95"/>
<circle cx="337.0" cy="396.5" r="2.95"/>
<circle cx="375.5" cy="416.2" r="2.95"/>
<circle cx="413.8" cy="409.6" r="2.95"/>
<circle cx="452.5" cy="381.4" r="2.95"/>
<circle cx="337.0" cy="398.4" r="2.95"/>
<circle cx="375.5" cy="418.8" r="2.95"/>
<circle cx="413.8" cy="421.4" r="2.95"/>
<circle cx="452.5" cy="391.9" r="2.95"/>
<circle cx="337.0" cy="400.4" r="2.95"/>
<circle cx="375.5" cy="432.6" r="2.95"/>
<circle cx="413.8" cy="426.7" r="2.95"/>
<circle cx="452.5" cy="401.1" r="2.95"/>
<circle cx="337.0" cy="426.4" r="2.95"/>
<circle cx="375.5" cy="439.2" r="2.95"/>
<circle cx="413.8" cy="429.3" r="2.95"/>
<circle cx="452.5" cy="444.4" r="2.95"/>
<circle cx="337.0" cy="405.0" r="2.95"/>
<circle cx="375.5" cy="443.8" r="2.95"/>
<circle cx="413.8" cy="440.2" r="2.95"/>
<circle cx="452.5" cy="446.4" r="2.95"/>
<circle cx="337.0" cy="409.0" r="2.95"/>
<circle cx="375.5" cy="445.7" r="2.95"/>
<circle cx="413.8" cy="437.2" r="2.95"/>
<circle cx="452.5" cy="416.2" r="2.95"/>
<circle cx="337.0" cy="413.9" r="2.95"/>
<circle cx="375.5" cy="447.7" r="2.95"/>
<circle cx="413.8" cy="445.7" r="2.95"/>
<circle cx="452.5" cy="431.9" r="2.95"/>
<circle cx="337.0" cy="450.0" r="2.95"/>
<circle cx="375.5" cy="449.0" r="2.95"/>
<circle cx="413.8" cy="449.7" r="2.95"/>
<circle cx="452.5" cy="448.4" r="2.95"/>
<circle cx="337.0" cy="452.5" r="2.95"/>
<circle cx="375.5" cy="452.5" r="2.95"/>
<circle cx="413.8" cy="454.3" r="2.95"/>
<circle cx="452.5" cy="450.0" r="2.95"/>
<circle cx="337.0" cy="433.9" r="2.95"/>
<circle cx="375.5" cy="453.6" r="2.95"/>
<circle cx="413.8" cy="451.3" r="2.95"/>
<circle cx="452.5" cy="405.0" r="2.95"/>
<circle cx="337.0" cy="430.0" r="2.95"/>
<circle cx="375.5" cy="442.5" r="2.95"/>
<circle cx="413.8" cy="443.8" r="2.95"/>
<circle cx="452.5" cy="453.6" r="2.95"/>
<circle cx="337.0" cy="435.9" r="2.95"/>
<circle cx="375.5" cy="451.7" r="2.95"/>
<circle cx="413.8" cy="453.0" r="2.95"/>
<circle cx="452.5" cy="409.6" r="2.95"/>
<circle cx="337.0" cy="441.1" r="2.95"/>
<circle cx="375.5" cy="454.9" r="2.95"/>
<circle cx="413.8" cy="441.8" r="2.95"/>
<circle cx="452.5" cy="452.3" r="2.95"/>
<rect x="326.25" y="396.37" width="17.5" height="4.8" fill="#fff" stroke="#000" stroke-width="1.5"/>
<rect x="367.5" y="414.63" width="17.5" height="4.8" fill="#fff" stroke="#000" stroke-width="1.5"/>
<rect x="405" y="423.11" width="17.5" height="4.8" fill="#fff" stroke="#000" stroke-width="1.5"/>
<rect x="446.25" y="409.58" width="18.0" height="4.8" fill="#fff" stroke="#000" stroke-width="1.5"/>
<text x="21" y="31" font-size="14.5" font-weight="bold">A</text>
<text x="21" y="277.5" font-size="13" font-weight="bold">B</text>
<rect x="0" y="0" width="520" height="1.05"/><rect x="0" y="0" width="1.15" height="524"/><rect x="519" y="0" width="1" height="524"/><rect x="0" y="522.5" width="520" height="1.5"/>
</svg>
</body></html>
